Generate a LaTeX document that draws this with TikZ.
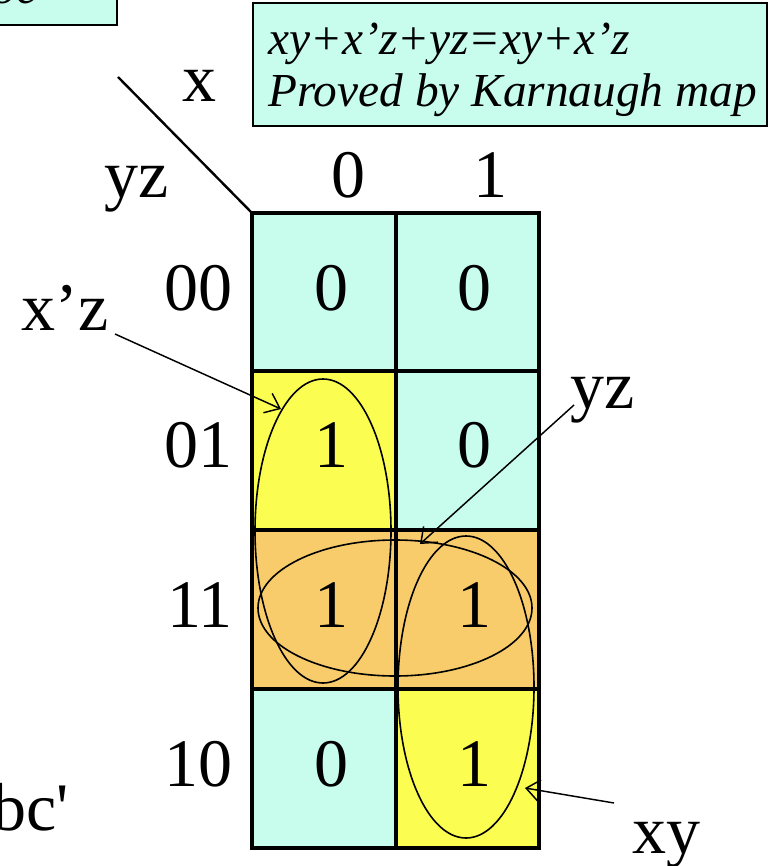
\documentclass[tikz,border=0pt]{standalone}
\usepackage{fontspec}
\setmainfont{Liberation Serif}
\usetikzlibrary{arrows.meta}
\definecolor{kcyan}{HTML}{C8FDEE}
\definecolor{kyellow}{HTML}{FCFD51}
\definecolor{korange}{HTML}{F8CC6B}
\tikzset{
  big/.style={font=\fontsize{51}{55}\selectfont, inner sep=0pt, anchor=base},
  boxtxt/.style={font=\fontsize{35.5}{42}\selectfont\itshape, inner sep=0pt, anchor=base west},
  cellc/.style={fill=kcyan},
  gridline/.style={line width=2.4pt},
  loop/.style={line width=1.2pt},
  pointer/.style={line width=1.1pt, -{Straight Barb[length=10pt,width=16pt,line width=1.1pt]}},
}
\begin{document}
\begin{tikzpicture}[x=0.75pt,y=-0.75pt]
\useasboundingbox (0,0) rectangle (769,866);
% cropped boxes from neighbouring material
\draw[fill=kcyan, line width=1.1pt] (-20,-40) rectangle (117,25);
\node[boxtxt, anchor=base east] (tl) at (38,4) {abc};
\node[big, anchor=base east] (bl) at (69,830) {abc\textquotesingle};
% statement box
\draw[fill=kcyan, line width=1.1pt] (253,3) rectangle (767,126);
\node[boxtxt] (eq) at (268,55) {xy+x’z+yz=xy+x’z};
\node[boxtxt] (pr) at (268,107) {Proved by Karnaugh map};
% cells
\fill[kcyan] (252,213) rectangle (396,371);
\fill[kcyan] (396,213) rectangle (539,371);
\fill[kyellow] (252,371) rectangle (396,530);
\fill[kcyan] (396,371) rectangle (539,530);
\fill[korange] (252,530) rectangle (396,689);
\fill[korange] (396,530) rectangle (539,689);
\fill[kcyan] (252,689) rectangle (396,848);
\fill[kyellow] (396,689) rectangle (539,848);
\draw[gridline] (252,213) rectangle (539,848);
\draw[gridline] (396,213) -- (396,848);
\draw[gridline] (252,371) -- (539,371);
\draw[gridline] (252,530) -- (539,530);
\draw[gridline] (252,689) -- (539,689);
% corner
\coordinate (corner) at (252,213);
\coordinate (diagstart) at (118,77);
\draw[line width=1.8pt] (diagstart) -- (corner);
\node[big] (xlab) at (199,102) {x};
\node[big] (yzlab) at (137,198) {yz};
\node[big] (c0) at (348,198) {0};
\node[big] (c1) at (490,198) {1};
% row labels
\node[big, anchor=base east] (r00) at (233,310) {00};
\node[big, anchor=base east] (r01) at (233,467) {01};
\node[big, anchor=base east] (r11) at (233,627) {11};
\node[big, anchor=base east] (r10) at (233,786) {10};
% values
\node[big] (v00a) at (331,310) {0};
\node[big] (v00b) at (474,310) {0};
\node[big] (v01a) at (331,467) {1};
\node[big] (v01b) at (474,467) {0};
\node[big] (v11a) at (331,627) {1};
\node[big] (v11b) at (474,627) {1};
\node[big] (v10a) at (331,786) {0};
\node[big] (v10b) at (474,786) {1};
% groupings
\draw[loop] (323,531) ellipse [x radius=68, y radius=152];
\draw[loop] (395,608) ellipse [x radius=137, y radius=68];
\draw[loop] (466,687) ellipse [x radius=68, y radius=151];
% labels with pointers
\node[big] (lxz) at (65,330) {x’z};
\node[big] (lyz) at (603,408) {yz};
\node[big] (lxy) at (666,853) {xy};
\coordinate (pxz0) at (115,334);
\coordinate (pxz1) at (281,409);
\coordinate (pyz0) at (574,405);
\coordinate (pyz1) at (420,544);
\coordinate (pxy0) at (614,803);
\coordinate (pxy1) at (525,788);
\draw[pointer] (pxz0) -- (pxz1);
\draw[pointer] (pyz0) -- (pyz1);
\draw[pointer] (pxy0) -- (pxy1);
\end{tikzpicture}
\end{document}
